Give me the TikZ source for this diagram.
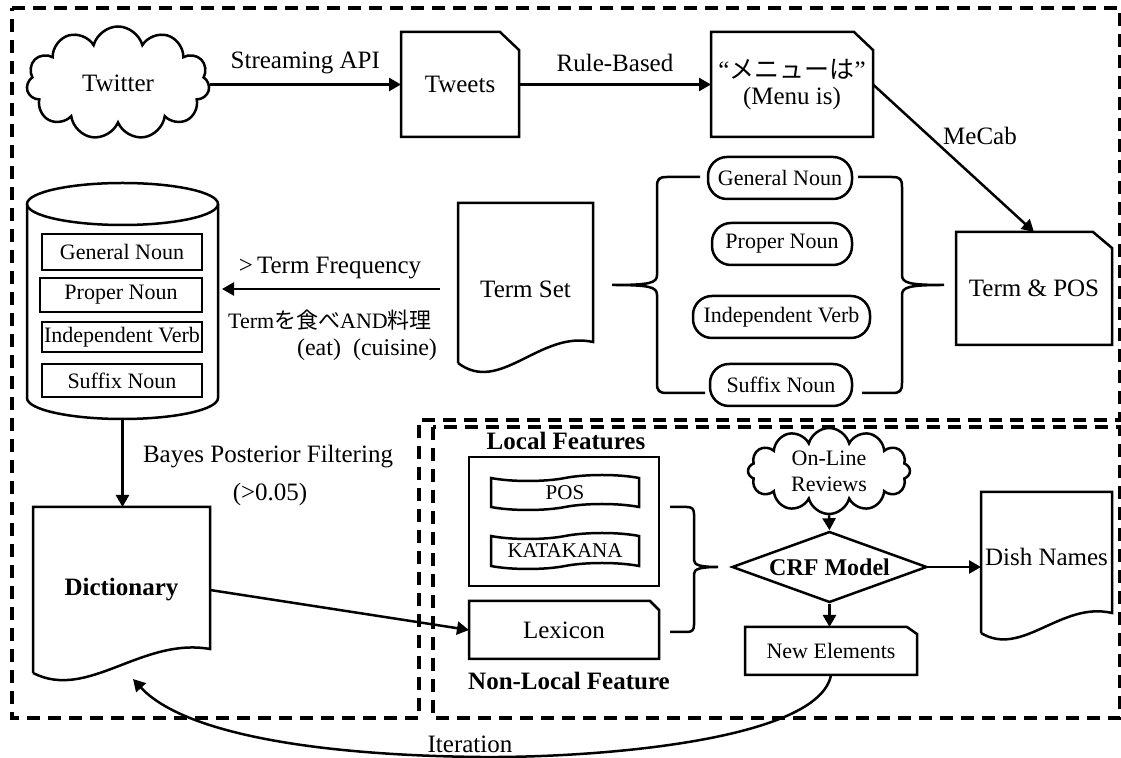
\documentclass[tikz,border=0pt]{standalone}
\usepackage{fontspec}
\setmainfont{Liberation Serif}
\newfontfamily\cjk{Noto Sans CJK JP}
\usetikzlibrary{shapes.geometric,shapes.misc,shapes.symbols,arrows.meta}
\newcommand\chamferbox[3]{\draw[box] (#1.south west) -- (#1.north west) -- ([xshift=-#2]#1.north east) -- ([yshift=-#3]#1.north east) -- (#1.south east) -- cycle;}
\begin{document}
\begin{tikzpicture}[x=0.5pt,y=-0.5pt,
  big/.style={font=\fontsize{12.5}{13}\selectfont},
  small/.style={font=\fontsize{11}{13}\selectfont},
  ln/.style={line width=1.25pt},
  box/.style={ln, draw=black},
  plain/.style={inner sep=0pt, outer sep=0pt},
  arr/.style={ln, -{Triangle[length=6pt,width=6.5pt]}},
  dashbox/.style={line width=1.6pt, dash pattern=on 6.5pt off 4pt},
  pill/.style={draw, ln, rounded corners=9.5pt, minimum height=21pt, inner sep=0pt, small},
  inbox/.style={draw, ln, inner sep=0pt, small},
  tp/.style={tape, draw, ln, tape bend top=in and out, tape bend bottom=in and out, tape bend height=3pt, minimum width=74pt, inner sep=0pt, font=\fontsize{10.5}{12}\selectfont},
  bracepath/.style={ln}
]
\useasboundingbox (0,0) rectangle (1121,758);

% dashed regions
\draw[dashbox] (12,8) -- (1120,8) -- (1120,420) -- (419,420) -- (419,718) -- (12,718) -- cycle;
\draw[dashbox] (433,427) rectangle (1120,718);

% top row
\node[cloud, cloud puffs=11, cloud ignores aspect, draw, ln, minimum width=91.5pt, minimum height=56.5pt, inner sep=0pt, big] (twitter) at (118,83) {Twitter};
\node[plain, minimum width=59pt, minimum height=52.5pt, big] (tweets) at (460,84.5) {Tweets};
\chamferbox{tweets}{9.5pt}{9pt}
\node[plain, minimum width=81pt, minimum height=52.5pt, big, align=center] (menu) at (792,84.5) {“{\cjk メニューは}”\\(Menu is)};
\chamferbox{menu}{9.5pt}{9pt}
\node[plain, minimum width=78pt, minimum height=56.5pt, big] (termpos) at (1034,288.5) {Term \& POS};
\chamferbox{termpos}{9.5pt}{8pt}

\draw[arr] (tweets.west -| twitter.east) -- (tweets.west) node[midway, yshift=11pt, big] {Streaming API};
\draw[arr] (tweets.east) -- (menu.west) node[midway, yshift=11pt, big] {Rule-Based};
\draw[arr] (menu.east) -- (termpos.north);
\node[big] (mecab) at (980,136) {MeCab};

% POS pills
\node[pill, minimum width=72pt] (gn2) at (780,178) {General Noun};
\node[pill, minimum width=70pt] (pn2) at (782,244) {Proper Noun};
\node[pill, minimum width=88.5pt] (iv2) at (781.5,317) {Independent Verb};
\node[pill, minimum width=71pt] (sn2) at (781,385) {Suffix Noun};

% braces
\draw[bracepath] (700,177) -- (667,177) .. controls (659,177) and (657,179) .. (657,187) -- (657,275) .. controls (657,283) and (650,285) .. (612,285) .. controls (650,285) and (657,287) .. (657,295) -- (657,383) .. controls (657,391) and (659,393) .. (667,393) -- (705,393);
\draw[bracepath] (858,177) -- (892,177) .. controls (900,177) and (902,179) .. (902,187) -- (902,275) .. controls (902,283) and (909,285) .. (944,285) .. controls (909,285) and (902,287) .. (902,295) -- (902,383) .. controls (902,391) and (900,393) .. (892,393) -- (862,393);

% Term Set document
\node[plain, minimum width=67.5pt, minimum height=60pt, big] (termset) at (525.5,289) {Term Set};
\draw[box] (458,363) -- (458,203) -- (593,203) -- (593,342) .. controls (540,330) and (500,395) .. (458,363);

% cylinder
\node[plain, minimum width=95.5pt, minimum height=118pt] (cyl) at (122.5,301) {};
\draw[box] (27,204) -- (27,398) arc[start angle=180, end angle=360, x radius=47.75pt, y radius=10.5pt] -- (218,204);
\draw[box] (122.5,204) ellipse[x radius=47.75pt, y radius=10.5pt];
\node[inbox, minimum width=80pt, minimum height=18pt] (gn1) at (122,252) {General Noun};
\node[inbox, minimum width=81pt, minimum height=17pt] (pn1) at (121,295) {Proper Noun};
\node[inbox, minimum width=80pt, minimum height=15pt] (iv1) at (122,337) {Independent Verb};
\node[inbox, minimum width=80pt, minimum height=16.5pt] (sn1) at (122,380.5) {Suffix Noun};

\draw[arr, shorten >=2pt] ([xshift=-9pt]termset.west) -- (termset.west -| cyl.east);
\node[big] (tf) at (330,268) {>\,Term Frequency};
\node[font=\fontsize{11}{13}\selectfont] (tj) at (330,320) {Term{\cjk を食べ}AND{\cjk 料理}};
\node[font=\fontsize{12}{14}\selectfont] (te) at (367,350) {(eat)\ \ (cuisine)};

% Dictionary
\node[plain, minimum width=88.5pt, minimum height=83pt, big, font=\bfseries\fontsize{12.5}{14}\selectfont] (dict) at (121.5,590) {Dictionary};
\draw[box] (33,673) -- (33,507) -- (210,507) -- (210,649) .. controls (141,637) and (88,701) .. (33,673);
\draw[arr] (cyl.south) -- (cyl.south |- dict.north);
\node[big] (bayes) at (268,457) {Bayes Posterior Filtering};
\node[big] (bayes2) at (270,494) {(>0.05)};

% features
\node[font=\bfseries\fontsize{12.5}{14}\selectfont] (lf) at (566,441) {Local Features};
\node[draw, ln, minimum width=95pt, minimum height=64.5pt, inner sep=0pt] (lfbox) at (564,521.5) {};
\node[tp, minimum height=17.5pt] (pos) at (565,492.5) {POS};
\node[tp, minimum height=18pt] (kata) at (565,551) {KATAKANA};
\node[plain, minimum width=95pt, minimum height=29pt, big] (lexicon) at (564,630) {Lexicon};
\chamferbox{lexicon}{4.5pt}{4.5pt}
\node[font=\bfseries\fontsize{12.5}{14}\selectfont] (nlf) at (569,681) {Non-Local Feature};
\draw[bracepath] (670,507) -- (687,507) .. controls (692,507) and (694,509) .. (694,514) -- (694,560) .. controls (694,565) and (700,567) .. (718,567) .. controls (700,567) and (694,569) .. (694,574) -- (694,625) .. controls (694,630) and (692,632) .. (687,632) -- (670,632);
\draw[arr] (dict.east) -- (lexicon.west);

% CRF part
\node[cloud, cloud puffs=12, cloud ignores aspect, draw, ln, minimum width=81pt, minimum height=43pt, inner sep=0pt,
  label={[small, align=center, inner sep=0pt]center:On-Line\\Reviews}] (reviews) at (829,471) {};
\node[diamond, draw, ln, minimum width=97.5pt, minimum height=35.5pt, inner sep=0pt, aspect=2.75, font=\bfseries\fontsize{12}{14}\selectfont] (crf) at (829.5,567) {CRF Model};
\node[plain, minimum width=86pt, minimum height=24pt, small] (newel) at (831,651) {New Elements};
\chamferbox{newel}{5pt}{3.5pt}
\node[plain, minimum width=65.5pt, minimum height=65pt, big] (dish) at (1046.5,557) {Dish Names};
\draw[box] (981,633) -- (981,492) -- (1112,492) -- (1112,613) .. controls (1061,601) and (1022,658) .. (981,633);

\draw[arr] (reviews.south) -- (crf.north);
\draw[arr] (crf.south) -- (crf.south |- newel.north);
\draw[arr] (crf.east) -- (crf.east -| dish.west);

% iteration
\coordinate (itend) at (133,679);
\draw[arr] (newel.south) .. controls (819,740) and (600,758) .. (480,757) .. controls (300,755) and (180,730) .. (itend);
\node[big] (iter) at (470,744) {Iteration};
\end{tikzpicture}
\end{document}
